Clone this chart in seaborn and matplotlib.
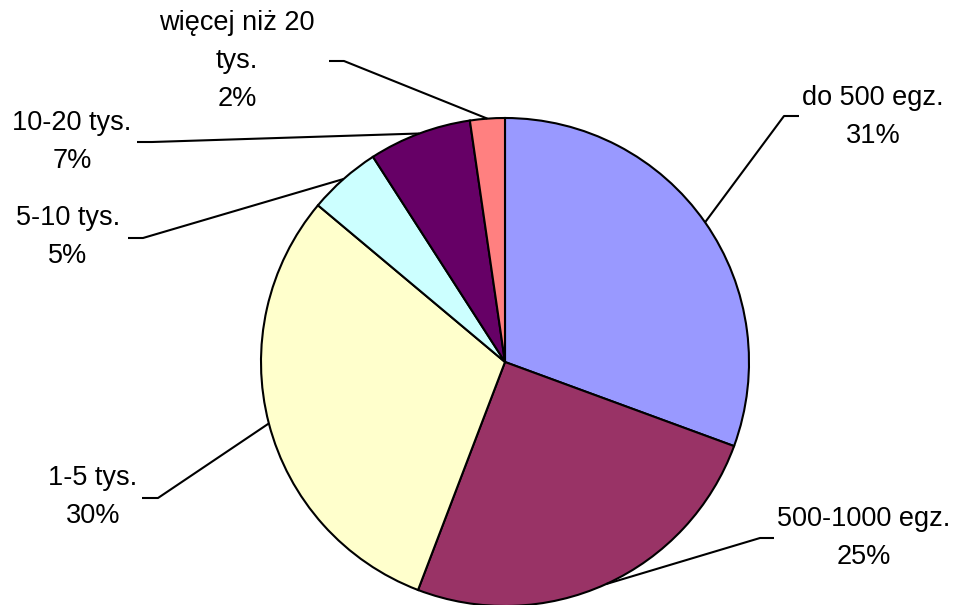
import numpy as np
import matplotlib
matplotlib.use("Agg")
import matplotlib.pyplot as plt
import seaborn as sns

categories = ["do 500 egz.", "500-1000 egz.", "1-5 tys.", "5-10 tys.", "10-20 tys.", "więcej niż 20\ntys."]
values = [30.6, 25.2, 30.3, 4.8, 6.8, 2.3]
colors = ["#9999FF", "#993366", "#FFFFCC", "#CCFFFF", "#660066", "#FF8080"]

sns.set_style("white")
plt.rcParams['font.family'] = ['Liberation Sans', 'DejaVu Sans']

W, H = 956, 605
fig = plt.figure(figsize=(W / 100, H / 100), dpi=100)
ax = fig.add_axes([0, 0, 1, 1])

cx, cy, r = 505, H - 362, 244
wedges, _ = ax.pie(values, colors=colors, startangle=90, counterclock=False,
                   center=(cx, cy), radius=r, frame=True,
                   wedgeprops=dict(edgecolor='black', linewidth=1.5))
ax.set_xlim(0, W)
ax.set_ylim(0, H)
ax.set_aspect('equal')
ax.axis('off')

total = sum(values)
# layout: (elbow x, elbow y, end x, text x, text y) in pixel coords (top-left origin)
layout = [
    (784, 116, 799, 873, 117),
    (760, 538, 774, 864, 538),
    (158, 498, 142, 93, 497),
    (143, 238, 128, 68, 237),
    (152, 142, 137, 72, 142),
    (344, 61, 329, 237, 61),
]
for w, cat, v, (ex, ey, hx, tx, ty) in zip(wedges, categories, values, layout):
    ang = np.deg2rad((w.theta1 + w.theta2) / 2)
    sx, sy = cx + r * np.cos(ang), cy + r * np.sin(ang)
    ax.plot([sx, ex, hx], [sy, H - ey, H - ey], color='black', lw=1.5,
            solid_capstyle='butt', zorder=5)
    label = f"{cat}\n{round(v / total * 100):.0f}%"
    ax.text(tx, H - ty, label, ha='center', va='center', fontsize=19.5,
            linespacing=1.62, color='black')

fig.savefig("out.png", dpi=100)
